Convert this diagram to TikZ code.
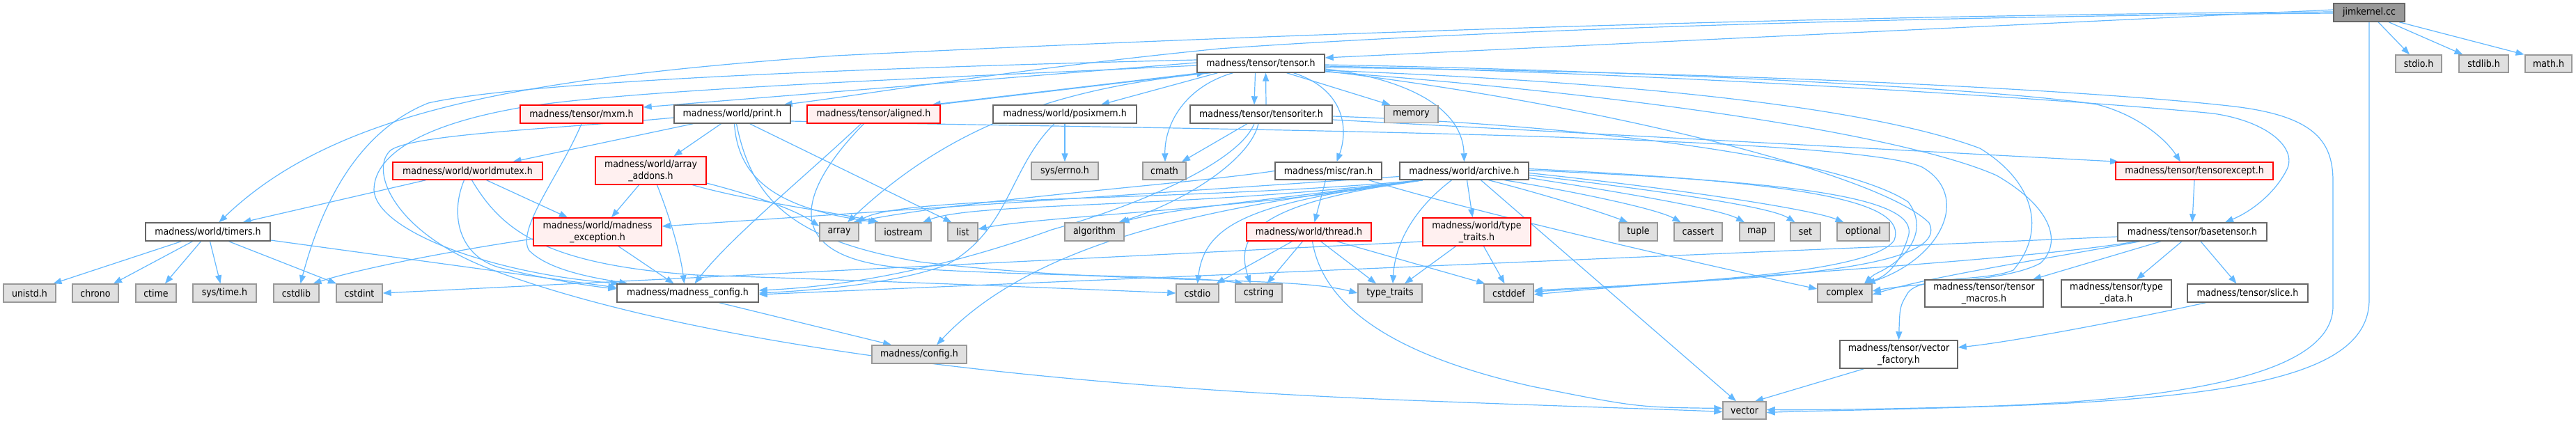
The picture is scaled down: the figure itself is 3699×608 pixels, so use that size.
\documentclass[tikz,border=0pt]{standalone}
\usepackage{fontspec}
\setmainfont{DejaVu Sans Condensed}
\usetikzlibrary{arrows.meta}
\pgfdeclarelayer{edgelayer}
\pgfsetlayers{edgelayer,main}
\definecolor{edgeblue}{HTML}{63B8FF}
\definecolor{boxgray}{HTML}{E0E0E0}
\definecolor{boxgrayline}{HTML}{999999}
\definecolor{wline}{HTML}{666666}
\definecolor{redfill}{HTML}{FFF0F0}
\definecolor{redline}{HTML}{FF0000}
\definecolor{jimfill}{HTML}{999999}
\tikzset{
  base/.style={inner sep=0pt, font=\fontsize{14}{17}\selectfont, text=black, line width=1.4pt, align=center},
  wbox/.style={base, draw=wline, fill=white},
  gbox/.style={base, draw=boxgrayline, fill=boxgray},
  rbox/.style={base, draw=redline, fill=redfill},
  jbox/.style={base, draw=wline, fill=jimfill},
  e/.style={draw=edgeblue, line width=1.2pt, -{Triangle[length=12pt,width=9pt]}},
  sz/.style 2 args={minimum width=#1pt, minimum height=#2pt}
}
\begin{document}
\begin{tikzpicture}[x=1pt,y=-1pt]
\path[use as bounding box] (0,0) rectangle (3699,608);
\node[jbox,sz={102}{26}] (jim) at (3402,18) {jimkernel.cc};
\node[gbox,sz={66}{25}] (stdio) at (3473,91.5) {stdio.h};
\node[gbox,sz={71}{25}] (stdlib) at (3566.5,91.5) {stdlib.h};
\node[gbox,sz={67}{25}] (math) at (3659.5,91.5) {math.h};
\node[wbox,sz={183}{26}] (tensor) at (1810.5,91) {madness/tensor/tensor.h};
\node[rbox,sz={176}{26}] (mxm) at (835,164) {madness/tensor/mxm.h};
\node[wbox,sz={167}{26}] (print) at (1051.5,164) {madness/world/print.h};
\node[rbox,sz={191}{26}] (aligned) at (1254.5,164) {madness/tensor/aligned.h};
\node[wbox,sz={206}{26}] (posixmem) at (1529,164) {madness/world/posixmem.h};
\node[wbox,sz={204}{26}] (tensoriter) at (1811,164) {madness/tensor/tensoriter.h};
\node[gbox,sz={77}{25}] (memory) at (2026.5,164) {memory};
\node[rbox,sz={215}{25}] (worldmutex) at (671.5,245.5) {madness/world/worldmutex.h};
\node[rbox,sz={159}{40}] (arrayadd) at (934.5,245) {madness/world/array\\\_addons.h};
\node[gbox,sz={96}{25}] (errno) at (1529,245.5) {sys/errno.h};
\node[gbox,sz={62}{25}] (cmath) at (1672,245.5) {cmath};
\node[wbox,sz={153}{25}] (ran) at (1907.5,245.5) {madness/misc/ran.h};
\node[wbox,sz={185}{25}] (archive) at (2102.5,245.5) {madness/world/archive.h};
\node[rbox,sz={226}{25}] (tensorexcept) at (3151,245.5) {madness/tensor/tensorexcept.h};
\node[wbox,sz={179}{26}] (timers) at (298.5,333) {madness/world/timers.h};
\node[rbox,sz={184}{40}] (mexc) at (858,333) {madness/world/madness\\\_exception.h};
\node[gbox,sz={56}{26}] (array) at (1205,333) {array};
\node[gbox,sz={80}{26}] (iostream) at (1297,333) {iostream};
\node[gbox,sz={43}{26}] (list) at (1382.5,333) {list};
\node[gbox,sz={85}{26}] (algorithm) at (1571.5,333) {algorithm};
\node[rbox,sz={179}{26}] (thread) at (1879.5,333) {madness/world/thread.h};
\node[rbox,sz={155}{40}] (wtt) at (2120.5,333) {madness/world/type\\\_traits.h};
\node[gbox,sz={55}{26}] (tuple) at (2352.5,333) {tuple};
\node[gbox,sz={69}{26}] (cassert) at (2438.5,333) {cassert};
\node[gbox,sz={50}{26}] (map) at (2523,333) {map};
\node[gbox,sz={43}{26}] (set) at (2592.5,333) {set};
\node[gbox,sz={75}{26}] (optional) at (2675.5,333) {optional};
\node[wbox,sz={214}{26}] (basetensor) at (3148,333) {madness/tensor/basetensor.h};
\node[gbox,sz={75}{26}] (unistd) at (42.5,421) {unistd.h};
\node[gbox,sz={66}{26}] (chrono) at (137,421) {chrono};
\node[gbox,sz={58}{26}] (ctime) at (224,421) {ctime};
\node[gbox,sz={91}{26}] (systime) at (322.5,421) {sys/time.h};
\node[gbox,sz={65}{26}] (cstdlib) at (425.5,421) {cstdlib};
\node[gbox,sz={66}{26}] (cstdint) at (516,421) {cstdint};
\node[wbox,sz={203}{26}] (mconfig) at (987.5,421) {madness/madness\_config.h};
\node[gbox,sz={61}{26}] (cstdio) at (1719.5,421) {cstdio};
\node[gbox,sz={67}{26}] (cstring) at (1807.5,421) {cstring};
\node[gbox,sz={92}{26}] (typetraits) at (1996,421) {type\_traits};
\node[gbox,sz={71}{26}] (cstddef) at (2166.5,421) {cstddef};
\node[gbox,sz={78}{26}] (complex) at (2649,421) {complex};
\node[wbox,sz={170}{39}] (tmacros) at (2849,421.5) {madness/tensor/tensor\\\_macros.h};
\node[wbox,sz={158}{39}] (typedata) at (3039,421.5) {madness/tensor/type\\\_data.h};
\node[wbox,sz={173}{26}] (slice) at (3227.5,421) {madness/tensor/slice.h};
\node[gbox,sz={136}{26}] (config) at (1320,509) {madness/config.h};
\node[wbox,sz={169}{40}] (vfactory) at (2726.5,509) {madness/tensor/vector\\\_factory.h};
\node[gbox,sz={62}{25}] (vector) at (2505,589.5) {vector};

\begin{pgfonlayer}{edgelayer}
% ---------------- jimkernel.cc
\draw[e] ([xshift=13]jim.south) -- ([xshift=-13]stdio.north);
\draw[e] ([xshift=28]jim.south) -- ([xshift=-30]stdlib.north);
\draw[e] ([xshift=43]jim.south) -- ([xshift=-35]math.north);
\draw[e] (jim.south) -- (3402,430) .. controls (3402,530) and (3250,572) .. (2850,584) .. controls (2700,589) and (2600,590) .. ([yshift=-3]vector.east);
\draw[e] ([yshift=4]jim.west) -- ([yshift=8]tensor.east);
\draw[e] ([yshift=-1]jim.west) .. controls (2700,24) and (2100,45) .. (1750,70) .. controls (1450,100) and (1250,135) .. ([xshift=-10]print.north east);
\draw[e] ([yshift=1]jim.west) .. controls (2600,22) and (1800,50) .. (1200,80) .. controls (750,112) and (480,160) .. ([xshift=16]timers.north);

% ---------------- tensor.h
\draw[e] ([yshift=5]tensor.west) .. controls (1300,96) and (760,115) .. (615,148) .. controls (510,190) and (460,300) .. ([xshift=6]cstdlib.north);
\draw[e] ([yshift=-3]tensor.west) .. controls (1400,110) and (880,128) .. (734,157) .. controls (600,182) and (537,225) .. (537,273) .. controls (540,330) and (700,392) .. ([xshift=4]mconfig.north west);
\draw[e] ([yshift=1]tensor.west) -- ([yshift=10]mxm.east);
\draw[e] ([xshift=-86]tensor.south) -- ([xshift=-12]aligned.north east);
\draw[e] ([xshift=-5]aligned.north east) -- ([xshift=-80]tensor.south);
\draw[e] ([xshift=-62]tensor.south) -- ([xshift=52]posixmem.north);
\draw[e] ([xshift=-72]tensor.south) .. controls (1530,125) and (1370,175) .. ([xshift=12]array.north);
\draw[e] ([xshift=-40]tensor.south) .. controls (1700,125) and (1672,180) .. ([xshift=1]cmath.north);
\draw[e] ([xshift=-8]tensor.south) -- ([xshift=-10]tensoriter.north);
\draw[e] ([xshift=7]tensoriter.north) -- ([xshift=7]tensor.south);
\draw[e] ([xshift=37]tensor.south) -- ([xshift=-30]memory.north);
\draw[e] ([xshift=47]tensor.south) .. controls (1935,130) and (1935,190) .. ([xshift=12]ran.north);
\draw[e] ([yshift=-8]tensor.east) .. controls (2010,112) and (2100,150) .. (archive.north);
\draw[e] ([yshift=-2]tensor.east) .. controls (2300,100) and (2850,125) .. (3011,150) .. controls (3070,165) and (3110,200) .. ([xshift=-20]tensorexcept.north);
\draw[e] ([yshift=-4]tensor.east) .. controls (2400,105) and (3000,145) .. (3178,163) .. controls (3260,175) and (3300,215) .. (3283,245) .. controls (3265,280) and (3230,305) .. ([xshift=47]basetensor.north);
\draw[e] ([yshift=-6]tensor.east) .. controls (2600,105) and (3050,135) .. (3200,152) .. controls (3320,165) and (3350,200) .. (3350,260) -- (3350,440) .. controls (3350,545) and (3100,578) .. (2800,585) .. controls (2680,588) and (2600,589) .. ([yshift=1]vector.east);
\draw[e] ([yshift=-10]tensor.east) .. controls (2400,120) and (2700,160) .. (2843,213) .. controls (2920,260) and (2940,330) .. (2891,388) .. controls (2850,405) and (2760,395) .. (2740,420) .. controls (2728,440) .. (vfactory.north);
\draw[e] ([yshift=-12]tensor.east) .. controls (2400,140) and (2750,200) .. (2867,252) .. controls (2950,300) and (2960,350) .. (2930,378) .. controls (2880,405) and (2760,405) .. ([yshift=3]complex.east);
\draw[e] ([yshift=-11]tensor.east) .. controls (2300,150) and (2700,250) .. (2770,320) .. controls (2790,360) and (2700,385) .. (2500,400) .. controls (2350,410) .. ([yshift=2]cstddef.east);

% ---------------- tensoriter.h
\draw[e] ([yshift=-3]tensoriter.east) .. controls (2300,180) and (2650,230) .. (2740,290) .. controls (2770,330) and (2740,370) .. (2700,390) .. controls (2690,395) .. ([xshift=28]complex.north);
\draw[e] ([yshift=-8]tensoriter.east) -- ([xshift=-109]tensorexcept.north);
\draw[e] ([xshift=-20]tensoriter.south) -- ([xshift=25]cmath.north);
\draw[e] ([xshift=-10]tensoriter.south) .. controls (1780,230) and (1650,290) .. (1510,330) .. controls (1400,370) and (1250,410) .. ([yshift=4]mconfig.east);
\draw[e] ([xshift=-4]tensoriter.south) .. controls (1795,230) and (1700,290) .. ([xshift=35]algorithm.north);

% ---------------- aligned.h
\draw[e] ([xshift=-18]aligned.south) .. controls (1160,250) and (1050,340) .. ([xshift=10]mconfig.north);
\draw[e] ([xshift=-14]aligned.south) .. controls (1150,270) and (1110,370) .. (1300,385) .. controls (1500,398) and (1700,395) .. ([xshift=-22]cstring.north);

% ---------------- print.h
\draw[e] ([xshift=-56]print.south) -- ([xshift=65]worldmutex.north);
\draw[e] ([xshift=-16]print.south) -- ([xshift=33]arrayadd.north);
\draw[e] ([xshift=3]print.south) .. controls (1060,260) and (1120,300) .. ([xshift=-38]iostream.north);
\draw[e] ([xshift=6]print.south) .. controls (1080,290) and (1140,345) .. (1320,376) .. controls (1600,410) and (1850,395) .. (typetraits.west);
\draw[e] ([xshift=25]print.south) -- ([xshift=-16]list.north);
\draw[e] ([yshift=-10]print.east) .. controls (1600,185) and (2650,190) .. (2760,240) .. controls (2830,280) and (2790,370) .. ([xshift=-8]complex.north east);
\draw[e] ([yshift=-5]print.west) .. controls (800,185) and (600,192) .. (562,215) .. controls (530,240) and (560,330) .. (700,385) .. controls (900,462) and (1300,545) .. (2000,574) .. controls (2250,584) and (2400,588) .. ([yshift=-2]vector.west);

% ---------------- mxm.h, posixmem.h
\draw[e] (mxm.south) .. controls (805,250) and (740,330) .. (760,360) .. controls (790,390) and (860,400) .. ([xshift=16]mconfig.north west);
\draw[e] (posixmem.south) -- (errno.north);
\draw[e] ([xshift=-15]posixmem.south) .. controls (1450,240) and (1450,330) .. (1360,380) .. controls (1280,410) and (1150,418) .. (mconfig.east);

% ---------------- worldmutex.h
\draw[e] ([xshift=-60]worldmutex.south) -- ([xshift=50]timers.north);
\draw[e] ([xshift=27]worldmutex.south) -- ([xshift=-43]mexc.north);
\draw[e] ([xshift=-5]worldmutex.south) .. controls (645,310) and (660,370) .. (720,385) .. controls (780,400) and (840,410) .. ([yshift=6]mconfig.west);
\draw[e] ([xshift=6]worldmutex.south) .. controls (720,330) and (780,380) .. (1000,395) .. controls (1300,405) and (1550,415) .. (cstdio.west);

% ---------------- array_addons.h
\draw[e] ([xshift=-17]arrayadd.south) -- ([xshift=20]mexc.north);
\draw[e] ([xshift=9]arrayadd.south) .. controls (965,320) and (978,370) .. ([xshift=-5]mconfig.north);
\draw[e] ([yshift=-18]arrayadd.east) .. controls (1080,280) and (1140,300) .. ([yshift=8]array.west);
\draw[e] ([xshift=60]arrayadd.south) .. controls (1080,290) and (1200,305) .. ([xshift=-35]iostream.north);

% ---------------- madness_exception.h
\draw[e] ([xshift=30]mexc.south) -- ([xshift=-20]mconfig.north);
\draw[e] ([yshift=-10]mexc.west) .. controls (650,360) and (520,385) .. ([xshift=24]cstdlib.north);

% ---------------- timers.h
\draw[e] ([xshift=-38]timers.south) -- ([xshift=34]unistd.north);
\draw[e] ([xshift=-22]timers.south) -- ([xshift=26]chrono.north);
\draw[e] ([xshift=-10]timers.south) -- ([xshift=13]ctime.north);
\draw[e] ([xshift=3]timers.south) -- ([xshift=-6]systime.north);
\draw[e] ([xshift=30]timers.south) -- ([xshift=-33]cstdint.north);
\draw[e] ([yshift=-12]timers.east) -- ([yshift=8]mconfig.west);

% ---------------- ran.h
\draw[e] ([xshift=-4]ran.south) -- ([xshift=8]thread.north);
\draw[e] (ran.west) .. controls (1700,265) and (1400,285) .. ([xshift=20]array.north);
\draw[e] ([xshift=58]ran.south) .. controls (2100,300) and (2400,370) .. ([yshift=6]complex.west);

% ---------------- archive.h
\draw[e] ([xshift=4]archive.south) -- ([xshift=-6]wtt.north);
\draw[e] ([xshift=-18]archive.south) .. controls (2030,300) and (2003,350) .. ([xshift=4]typetraits.north);
\draw[e] ([xshift=24]archive.south) -- ([xshift=-12]vector.north);
\draw[e] ([xshift=35]archive.south) .. controls (2220,280) and (2300,305) .. ([xshift=-15]tuple.north);
\draw[e] ([xshift=58]archive.south) .. controls (2260,275) and (2380,300) .. ([xshift=-25]cassert.north);
\draw[e] ([yshift=-10]archive.east) .. controls (2320,275) and (2470,300) .. ([xshift=-18]map.north);
\draw[e] ([yshift=-6]archive.east) .. controls (2350,270) and (2540,295) .. ([xshift=-15]set.north);
\draw[e] ([yshift=-3]archive.east) .. controls (2400,270) and (2600,300) .. ([xshift=-28]optional.north);
\draw[e] ([yshift=1]archive.east) .. controls (2550,260) and (2760,280) .. (2740,340) .. controls (2725,390) and (2700,400) .. ([xshift=-12]complex.north east);
\draw[e] ([yshift=3]archive.east) .. controls (2600,262) and (2740,290) .. (2720,345) .. controls (2690,390) and (2450,405) .. ([yshift=4]cstddef.east);
\draw[e] ([xshift=-60]archive.south) .. controls (1700,290) and (1300,280) .. ([xshift=-4]array.north east);
\draw[e] ([xshift=-60]archive.south) .. controls (1700,300) and (1400,290) .. ([xshift=28]iostream.north);
\draw[e] ([xshift=-60]archive.south) .. controls (1800,300) and (1500,310) .. ([yshift=4]list.east);
\draw[e] ([yshift=-8]archive.west) -- ([yshift=8]mexc.east);
\draw[e] ([xshift=-60]archive.south) .. controls (1800,290) and (1730,320) .. (cstdio.north);
\draw[e] ([xshift=-60]archive.south) .. controls (1820,290) and (1770,330) .. ([xshift=-12]cstring.north);
\draw[e] ([xshift=-60]archive.south) .. controls (1800,290) and (1500,330) .. ([xshift=25]config.north);
\draw[e] ([xshift=-60]archive.south) .. controls (1800,290) and (1680,300) .. ([xshift=38]algorithm.north);

% ---------------- thread.h
\draw[e] ([xshift=-24]thread.south) -- ([xshift=27]cstdio.north);
\draw[e] ([xshift=-9]thread.south) -- ([xshift=12]cstring.north);
\draw[e] ([xshift=5]thread.south) .. controls (1900,440) and (2000,510) .. (2200,555) .. controls (2350,585) .. ([yshift=3]vector.west);
\draw[e] ([xshift=17]thread.south) -- ([xshift=-20]typetraits.north);
\draw[e] ([xshift=40]thread.south) -- ([xshift=2]cstddef.north west);

% ---------------- world/type_traits.h
\draw[e] ([xshift=-30]wtt.south) -- ([xshift=21]typetraits.north);
\draw[e] ([xshift=10]wtt.south) -- ([xshift=-6]cstddef.north);
\draw[e] ([yshift=-14]wtt.west) -- (cstdint.east);

% ---------------- basetensor.h and below
\draw[e] (tensorexcept.south) -- (basetensor.north);
\draw[e] ([xshift=-45]basetensor.south) -- ([xshift=70]tmacros.north);
\draw[e] ([xshift=-15]basetensor.south) -- ([xshift=29]typedata.north);
\draw[e] ([xshift=12]basetensor.south) -- ([xshift=-16]slice.north);
\draw[e] ([xshift=-75]basetensor.south) .. controls (2950,370) and (2780,395) .. ([yshift=-2]complex.east);
\draw[e] ([xshift=-80]basetensor.south) .. controls (2900,375) and (2500,395) .. ([yshift=-2]cstddef.east);
\draw[e] ([yshift=-7]basetensor.west) -- ([yshift=-2]mconfig.east);
\draw[e] ([xshift=-60]slice.south) .. controls (3100,450) and (2900,490) .. ([yshift=10]vfactory.east);
\draw[e] ([xshift=-50]vfactory.south) -- ([xshift=15]vector.north);
\draw[e] ([xshift=45]mconfig.south) -- ([xshift=-40]config.north);
\end{pgfonlayer}
\end{tikzpicture}
\end{document}
